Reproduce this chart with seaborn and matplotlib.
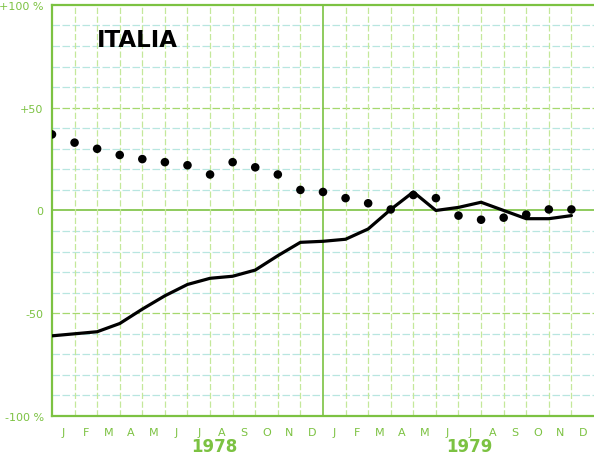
import matplotlib
matplotlib.use('Agg')
import matplotlib.pyplot as plt
import seaborn as sns
import pandas as pd

# Month index 0..23 = Jan 1978 .. Dec 1979
months = list(range(24))
month_labels = ['J', 'F', 'M', 'A', 'M', 'J', 'J', 'A', 'S', 'O', 'N', 'D'] * 2
years = ['1978', '1979']

# solid line series (%)
line_values = [-61, -60, -59, -55, -48, -41.5, -36, -33, -32, -29, -22, -15.5,
               -15, -14, -9, 0.5, 9, 0, 1.5, 4, 0, -4, -4, -2.5]
# dotted series (%)
dot_values = [37, 33, 30, 27, 25, 23.5, 22, 17.5, 23.5, 21, 17.5, 10,
              9, 6, 3.5, 0.5, 7.5, 6, -2.5, -4.5, -3.5, -2, 0.5, 0.5]

df = pd.DataFrame({'month': months, 'line': line_values, 'dots': dot_values})

sns.set_style('white')
green = '#7cc242'
grid_green = '#c4e89a'
grid_cyan = '#b8e6e0'

fig = plt.figure(figsize=(5.94, 4.56), dpi=100)
ax = fig.add_axes([0.0875, 0.0855, 0.9125, 0.9015])

# grid lines
for v in range(-90, 100, 10):
    if v == 0:
        ax.axhline(v, color=green, lw=1.2, zorder=1)
    elif v % 50 == 0:
        ax.axhline(v, color='#a6d86e', lw=0.9, ls=(0, (6, 2)), zorder=1)
    else:
        ax.axhline(v, color=grid_cyan, lw=0.9, ls=(0, (6, 2)), zorder=1)
for m in range(1, 24):
    if m == 12:
        ax.axvline(m, color=green, lw=1.2, zorder=1)
    else:
        ax.axvline(m, color=grid_green, lw=0.9, ls=(0, (5, 2)), zorder=1)

sns.lineplot(data=df, x='month', y='line', color='black', lw=2.3, ax=ax, zorder=3)
sns.scatterplot(data=df, x='month', y='dots', color='black', s=38, edgecolor='none',
                ax=ax, zorder=3)

ax.set_xlim(0, 24)
ax.set_ylim(-100, 100)
ax.set_xlabel('')
ax.set_ylabel('')

ax.set_yticks([-100, -50, 0, 50, 100])
ax.set_yticklabels(['-100 %', '-50', '0', '+50', '+100 %'], color=green, fontsize=8)
ax.set_xticks([m + 0.5 for m in months])
ax.set_xticklabels(month_labels, color=green, fontsize=8)
ax.tick_params(axis='both', length=0, pad=6)
ax.tick_params(axis='x', pad=8)

for side in ['left', 'bottom', 'top']:
    ax.spines[side].set_color(green)
    ax.spines[side].set_linewidth(1.6)
ax.spines['right'].set_visible(False)

# year labels
ax.text(7.2, -114.5, years[0], color=green, fontsize=12, fontweight='bold',
        ha='center', va='center', clip_on=False)
ax.text(18.5, -114.5, years[1], color=green, fontsize=12, fontweight='bold',
        ha='center', va='center', clip_on=False)

# title
ax.text(2.0, 83, 'ITALIA', color='black', fontsize=16.5, fontweight='bold',
        ha='left', va='center')

# clipped label of the next panel below
fig.text(0.005, -0.012, '+100 %', color=green, fontsize=8, ha='left', va='center')

fig.savefig('out.png', dpi=100)
